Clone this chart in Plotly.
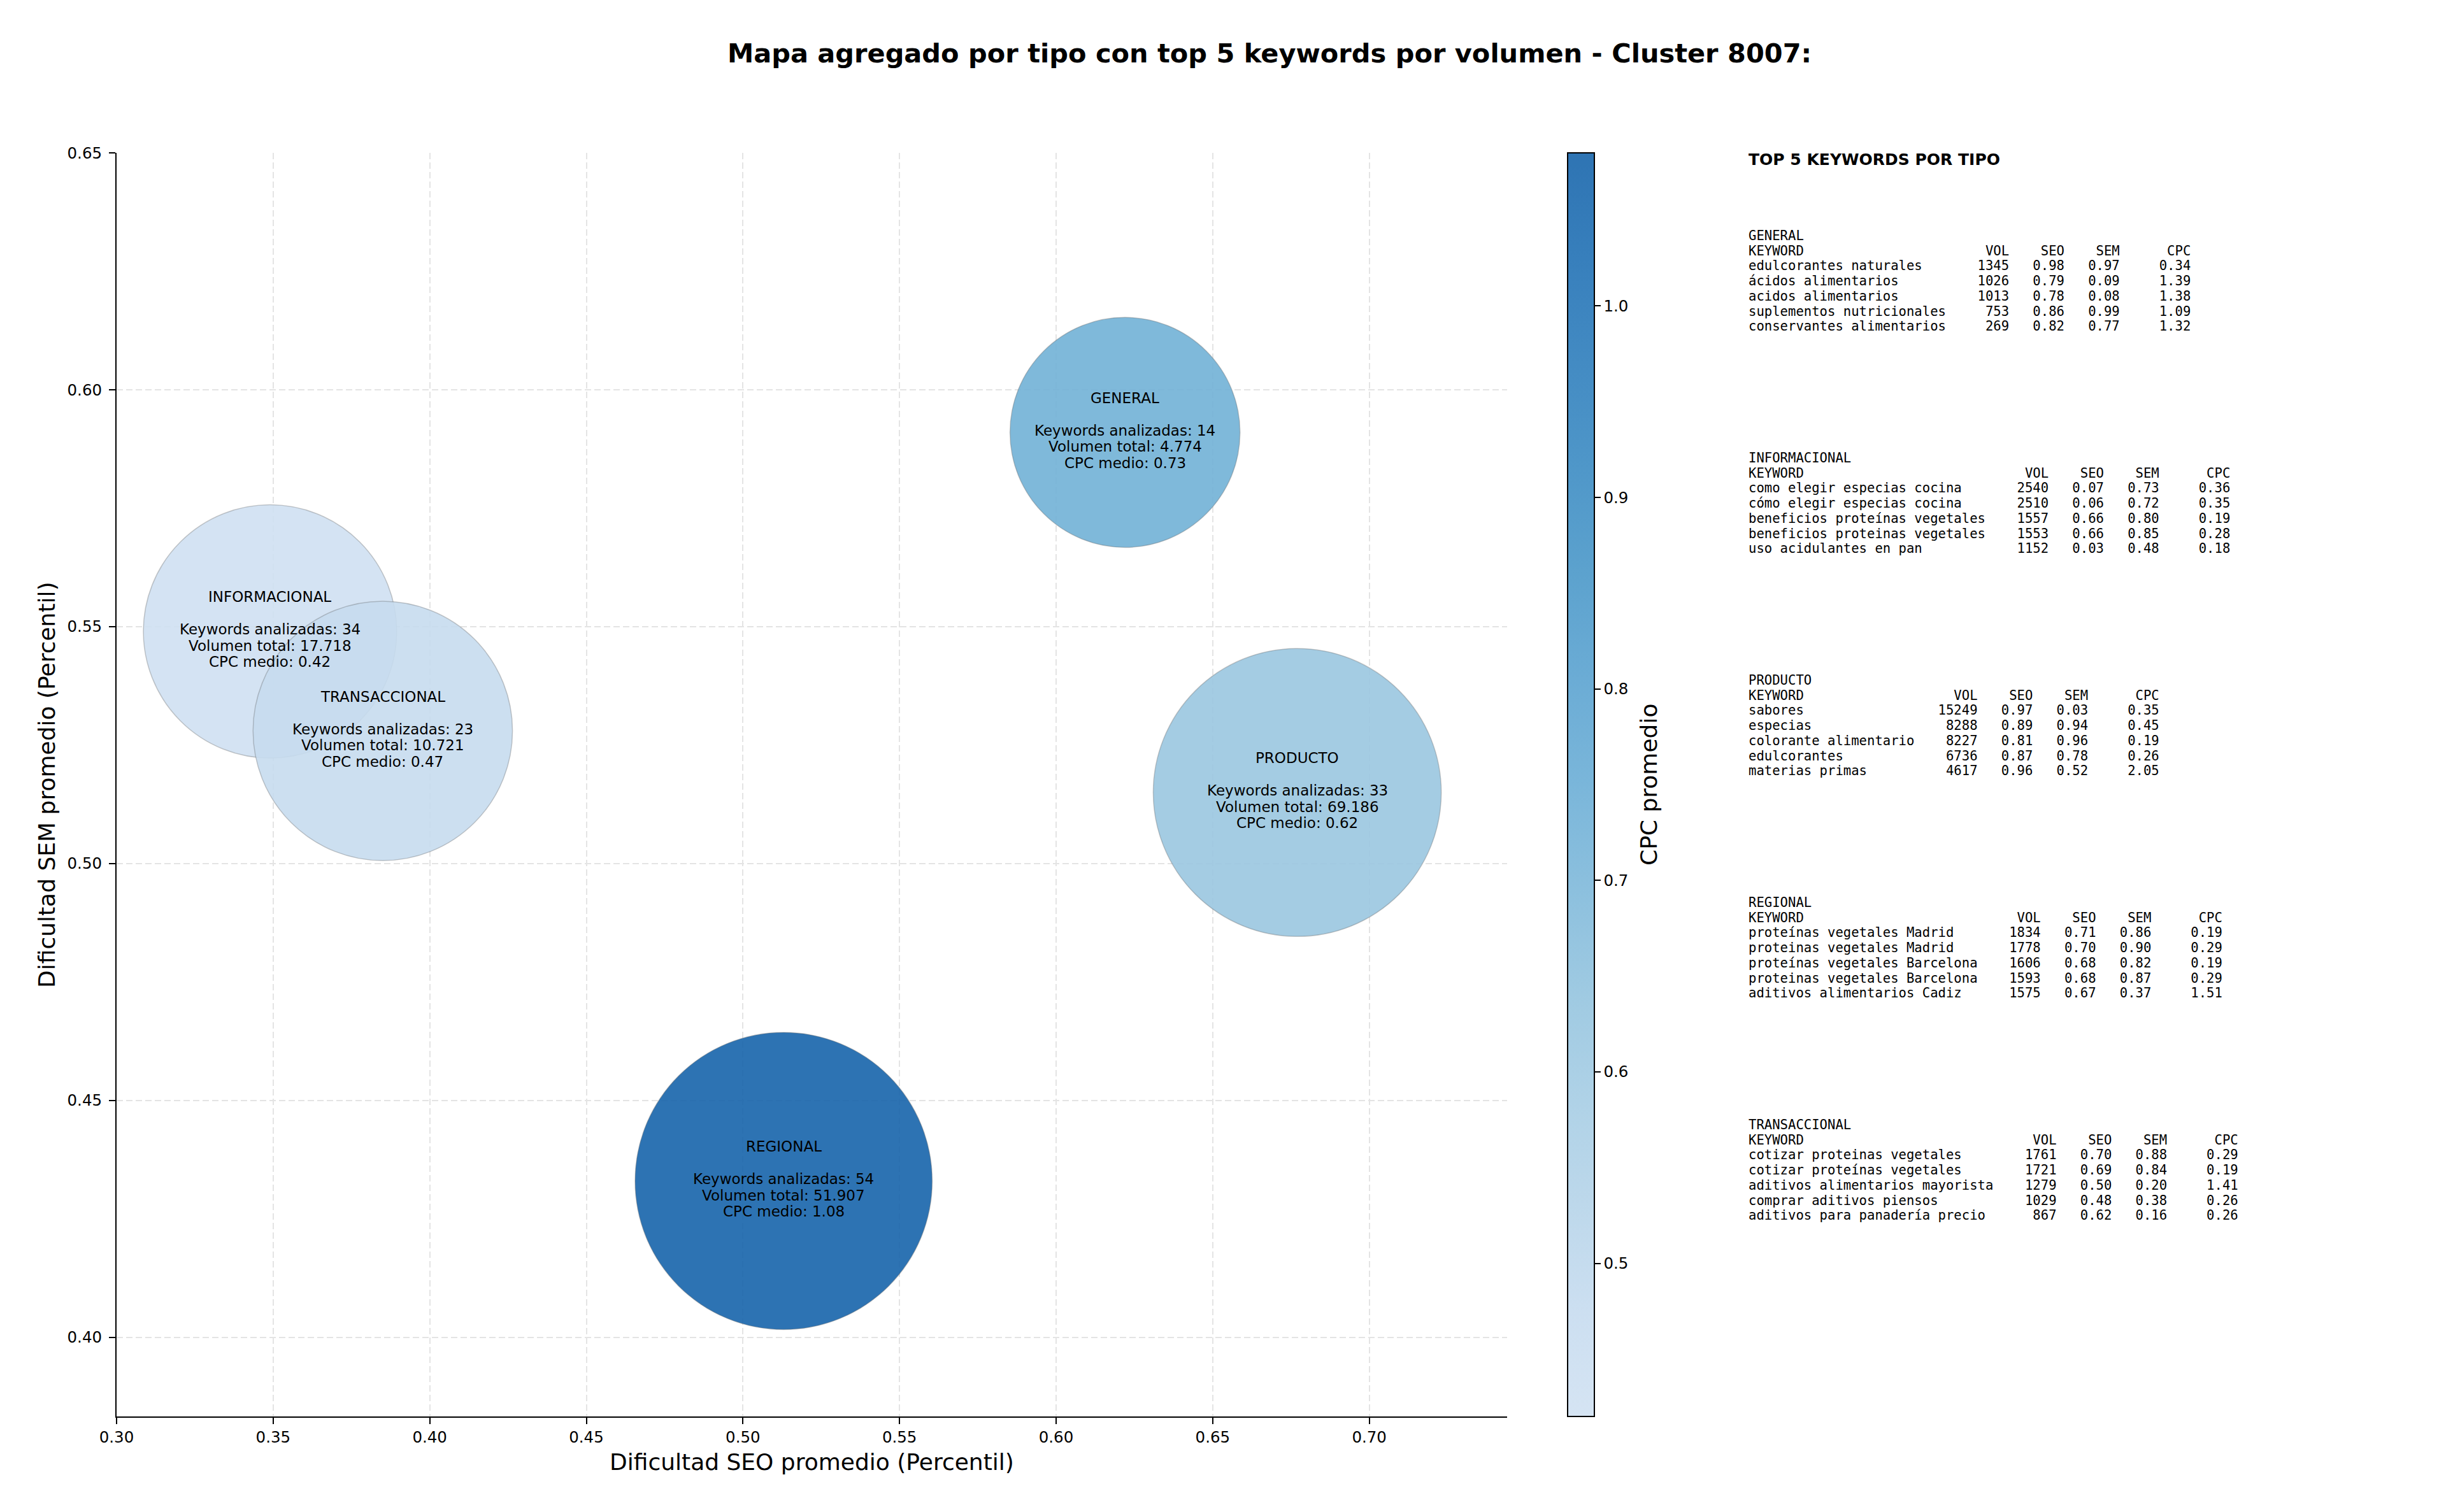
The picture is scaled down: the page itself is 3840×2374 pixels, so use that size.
import numpy as np
import plotly.graph_objects as go
from plotly.colors import get_colorscale, sample_colorscale, unlabel_rgb

# --- datos agregados por tipo ---
tipos = ["GENERAL", "INFORMACIONAL", "PRODUCTO", "REGIONAL", "TRANSACCIONAL"]
seo_medio = [0.622, 0.349, 0.677, 0.513, 0.385]
sem_medio = [0.591, 0.549, 0.515, 0.433, 0.528]
n_keywords = [14, 34, 33, 54, 23]
volumen_total = [4774, 17718, 69186, 51907, 10721]
cpc_medio = [0.73, 0.42, 0.62, 1.08, 0.47]
peso_burbuja = [16900, 20500, 26500, 28200, 21500]

# --- top 5 keywords por tipo: (keyword, vol, seo, sem, cpc) ---
top_general = [
    ("edulcorantes naturales", 1345, 0.98, 0.97, 0.34),
    ("ácidos alimentarios", 1026, 0.79, 0.09, 1.39),
    ("acidos alimentarios", 1013, 0.78, 0.08, 1.38),
    ("suplementos nutricionales", 753, 0.86, 0.99, 1.09),
    ("conservantes alimentarios", 269, 0.82, 0.77, 1.32),
]
top_informacional = [
    ("como elegir especias cocina", 2540, 0.07, 0.73, 0.36),
    ("cómo elegir especias cocina", 2510, 0.06, 0.72, 0.35),
    ("beneficios proteínas vegetales", 1557, 0.66, 0.80, 0.19),
    ("beneficios proteinas vegetales", 1553, 0.66, 0.85, 0.28),
    ("uso acidulantes en pan", 1152, 0.03, 0.48, 0.18),
]
top_producto = [
    ("sabores", 15249, 0.97, 0.03, 0.35),
    ("especias", 8288, 0.89, 0.94, 0.45),
    ("colorante alimentario", 8227, 0.81, 0.96, 0.19),
    ("edulcorantes", 6736, 0.87, 0.78, 0.26),
    ("materias primas", 4617, 0.96, 0.52, 2.05),
]
top_regional = [
    ("proteínas vegetales Madrid", 1834, 0.71, 0.86, 0.19),
    ("proteinas vegetales Madrid", 1778, 0.70, 0.90, 0.29),
    ("proteínas vegetales Barcelona", 1606, 0.68, 0.82, 0.19),
    ("proteinas vegetales Barcelona", 1593, 0.68, 0.87, 0.29),
    ("aditivos alimentarios Cadiz", 1575, 0.67, 0.37, 1.51),
]
top_transaccional = [
    ("cotizar proteinas vegetales", 1761, 0.70, 0.88, 0.29),
    ("cotizar proteínas vegetales", 1721, 0.69, 0.84, 0.19),
    ("aditivos alimentarios mayorista", 1279, 0.50, 0.20, 1.41),
    ("comprar aditivos piensos", 1029, 0.48, 0.38, 0.26),
    ("aditivos para panadería precio", 867, 0.62, 0.16, 0.26),
]
tops = [top_general, top_informacional, top_producto, top_regional, top_transaccional]

W, H = 3840, 2374
ML, MR, MT, MB = 183, 1474, 240, 150
PW, PH = W - ML - MR, H - MT - MB

def px_x(px):
    return (px - ML) / PW

def px_y(py):
    return (H - MB - py) / PH

# colores: Blues recortado (0.2-0.8), alpha 0.9 sobre blanco para la barra
ALPHA = 0.9
pts = np.linspace(0, 1, 13)
base = sample_colorscale(get_colorscale("Blues"), list(0.2 + 0.6 * pts))
def _rgb(c, a=1.0):
    r, g, b = unlabel_rgb(c)
    return "rgb(%d,%d,%d)" % (round(a * r + (1 - a) * 255), round(a * g + (1 - a) * 255), round(a * b + (1 - a) * 255))
bubble_scale = [[float(p), _rgb(c)] for p, c in zip(pts, base)]
bar_scale = [[float(p), _rgb(c, ALPHA)] for p, c in zip(pts, base)]
cmin, cmax = min(cpc_medio), max(cpc_medio)

def miles(v):
    return f"{v:,}".replace(",", ".")

font_main = "DejaVu Sans"
TICK = 24.5
LABEL = 36

fig = go.Figure()
fig.add_trace(go.Scatter(
    x=seo_medio, y=sem_medio, mode="markers",
    marker=dict(
        size=peso_burbuja, sizemode="area", sizeref=0.2592,
        color=cpc_medio, colorscale=bubble_scale, cmin=cmin, cmax=cmax,
        opacity=ALPHA, line=dict(color="rgba(90,90,90,0.35)", width=1.5),
        showscale=False,
    ),
    hoverinfo="skip", showlegend=False,
))
# traza auxiliar solo para la barra de color
fig.add_trace(go.Scatter(
    x=seo_medio, y=sem_medio, mode="markers",
    marker=dict(
        size=1, color=cpc_medio, colorscale=bar_scale, cmin=cmin, cmax=cmax, opacity=0,
        showscale=True,
        colorbar=dict(
            x=px_x(2461), xanchor="left", y=0.5, yanchor="middle",
            len=1, lenmode="fraction", thickness=42, xpad=0, ypad=0,
            outlinewidth=2, outlinecolor="black",
            ticks="outside", ticklen=9, tickwidth=2, tickcolor="black",
            tickvals=[0.5, 0.6, 0.7, 0.8, 0.9, 1.0],
            ticktext=["0.5", "0.6", "0.7", "0.8", "0.9", "1.0"],
            tickfont=dict(family=font_main, size=TICK, color="black"),
        ),
    ),
    hoverinfo="skip", showlegend=False,
))

def note(text, x, y, size, family=font_main, angle=0, xanchor="left"):
    return dict(text=text, x=x, y=y, xref="paper", yref="paper",
                xanchor=xanchor, yanchor="middle", showarrow=False, textangle=angle,
                font=dict(family=family, size=size, color="black"))

annotations = [
    note("Dificultad SEO promedio (Percentil)", 0.5, px_y(2295), LABEL, xanchor="center"),
    note("Dificultad SEM promedio (Percentil)", px_x(73), 0.5, LABEL, angle=-90, xanchor="center"),
    note("CPC promedio", px_x(2588), 0.5, LABEL, angle=-90, xanchor="center"),
    note("<b>TOP 5 KEYWORDS POR TIPO</b>", px_x(2743), px_y(251), 25),
]

# etiquetas dentro de cada burbuja (linea en blanco tras el tipo)
PITCH = 25.5
for t, sx, sy, n, v, c in zip(tipos, seo_medio, sem_medio, n_keywords, volumen_total, cpc_medio):
    rows = [(-2, t), (0, f"Keywords analizadas: {n}"), (1, f"Volumen total: {miles(v)}"),
            (2, f"CPC medio: {c:.2f}")]
    for k, txt in rows:
        annotations.append(dict(
            text=txt, x=sx, y=sy, xref="x", yref="y", xanchor="center", yanchor="middle",
            yshift=3 - k * PITCH, showarrow=False,
            font=dict(family=font_main, size=23, color="black"),
        ))

# panel de texto con el top 5
NB = "\u00a0"
for i, (tipo, rows) in enumerate(zip(tipos, tops)):
    w = max(len(r[0]) for r in rows)
    lines = [tipo, "KEYWORD".ljust(w) + f"{'VOL':>8}{'SEO':>7}{'SEM':>7}{'CPC':>9}"]
    for kw, vol, s1, s2, c in rows:
        lines.append(kw.ljust(w) + f"{vol:>8}{s1:>7.2f}{s2:>7.2f}{c:>9.2f}")
    y0 = 370 + i * 349
    for j, ln in enumerate(lines):
        annotations.append(note(ln.replace(" ", NB), px_x(2743), px_y(y0 + j * 23.7),
                                20.6, family="DejaVu Sans Mono"))

axis_common = dict(
    showline=True, linecolor="black", linewidth=2, mirror=False,
    ticks="outside", ticklen=10, tickwidth=2, tickcolor="black",
    tickfont=dict(family=font_main, size=TICK, color="black"),
    showgrid=True, gridcolor="#e4e4e4", gridwidth=2, griddash="10px,5px",
    zeroline=False, tickformat=".2f",
)

fig.update_layout(
    width=W, height=H, autosize=False,
    margin=dict(l=ML, r=MR, t=MT, b=MB, autoexpand=False),
    paper_bgcolor="white", plot_bgcolor="white",
    title=dict(
        text="<b>Mapa agregado por tipo con top 5 keywords por volumen - Cluster 8007:</b>",
        x=1993 / W, xref="container", xanchor="center",
        y=1 - 83 / H, yref="container", yanchor="middle",
        font=dict(family=font_main, size=41.5, color="black"),
    ),
    xaxis=dict(axis_common, range=[0.30, 0.744], dtick=0.05, tick0=0.30, ticklabelstandoff=0),
    yaxis=dict(axis_common, range=[0.3833, 0.65], dtick=0.05, tick0=0.40, ticklabelstandoff=6),
    annotations=annotations,
)

fig.write_html("out.html", config={"displayModeBar": False},
               post_script="document.body.style.margin='0';")
